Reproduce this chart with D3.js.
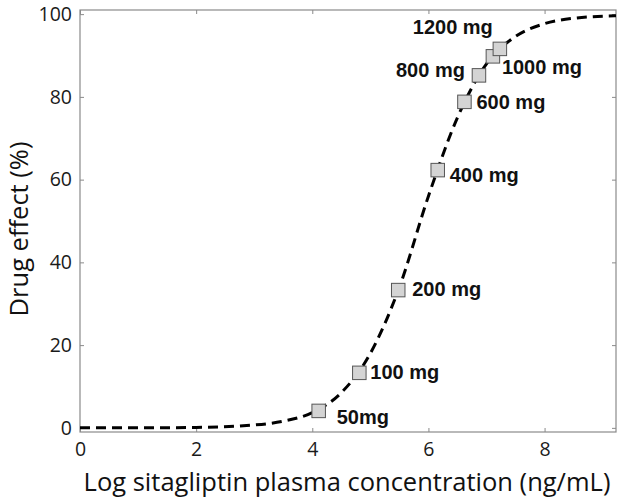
<!DOCTYPE html>
<html>
<head>
<meta charset="utf-8">
<script src="https://cdn.jsdelivr.net/npm/d3@7"></script>
<style>
  body { margin: 0; background: #fff; }
  svg { display: block; }
</style>
</head>
<body>
<div id="chart"></div>
<script>
// dose points
const doses = ["50mg", "100 mg", "200 mg", "400 mg", "600 mg", "800 mg", "1000 mg", "1200 mg"];
const logConc = [4.11, 4.81, 5.48, 6.16, 6.62, 6.87, 7.11, 7.23];
const effect = [4.1, 13.3, 33.3, 62.3, 78.8, 85.2, 89.8, 91.6];

// dashed model curve
const curveX = [0, 1, 2, 3, 3.5, 4, 4.5, 5, 5.5, 6, 6.5, 7, 7.5, 8, 8.5, 9.23];
const curveY = [0, 0, 0.1, 0.7, 1.6, 3.7, 8.5, 18, 34, 56, 75, 88, 94.6, 97.7, 99, 99.6];

const xTicks = [0, 2, 4, 6, 8];
const yTicks = [0, 20, 40, 60, 80, 100];

const W = 624, H = 503;
const margin = { top: 10, right: 8, bottom: 71, left: 80 };
const width = W - margin.left - margin.right,
  height = H - margin.top - margin.bottom;

const svg = d3.select("#chart").append("svg")
  .attr("width", W).attr("height", H);
const g = svg.append("g")
  .attr("transform", "translate(" + margin.left + "," + margin.top + ")");

const x = d3.scaleLinear().domain([0, 9.23]).range([0, width]);
const y = d3.scaleLinear().domain([-1, 101]).range([height, 0]);

const axisColor = "#8a8a8a";
const tickFont = "'Open Sans', sans-serif";

// frame
g.append("rect")
  .attr("width", width).attr("height", height)
  .attr("fill", "none").attr("stroke", axisColor).attr("stroke-width", 1.2);

// inward ticks on all four sides
const styleAxis = function (sel) {
  sel.select(".domain").remove();
  sel.selectAll(".tick line").attr("stroke", axisColor);
  sel.selectAll(".tick text")
    .attr("fill", "#1a1a1a")
    .style("font-family", tickFont)
    .style("font-size", "19.5px");
};

g.append("g").attr("transform", "translate(0," + height + ")")
  .call(d3.axisBottom(x).tickValues(xTicks).tickSizeInner(-4).tickPadding(10).tickFormat(d3.format("d")))
  .call(styleAxis);
g.append("g")
  .call(d3.axisTop(x).tickValues(xTicks).tickSizeInner(-4).tickFormat(""))
  .call(styleAxis);
g.append("g")
  .call(d3.axisLeft(y).tickValues(yTicks).tickSizeInner(-4).tickPadding(8).tickFormat(d3.format("d")))
  .call(styleAxis);
g.append("g").attr("transform", "translate(" + width + ",0)")
  .call(d3.axisRight(y).tickValues(yTicks).tickSizeInner(-4).tickFormat(""))
  .call(styleAxis);

// curve
const curvePts = curveX.map((d, i) => [d, curveY[i]]);
const line = d3.line()
  .x(d => x(d[0]))
  .y(d => y(d[1]))
  .curve(d3.curveMonotoneX);

g.append("path")
  .datum(curvePts)
  .attr("d", line)
  .attr("fill", "none")
  .attr("stroke", "#000")
  .attr("stroke-width", 3)
  .attr("stroke-dasharray", "10,6");

// squares
const pts = doses.map((d, i) => ({ dose: d, lx: logConc[i], e: effect[i] }));
const sq = 13.5;
g.append("g").selectAll("rect")
  .data(pts)
  .enter()
  .append("rect")
  .attr("x", d => x(d.lx) - sq / 2)
  .attr("y", d => y(d.e) - sq / 2)
  .attr("width", sq)
  .attr("height", sq)
  .attr("fill", "#d4d4d4")
  .attr("stroke", "#555")
  .attr("stroke-width", 1);

// dose labels, offset from each square
const labelOffset = {
  "50mg": [18, 13, "start"],
  "100 mg": [11, 6, "start"],
  "200 mg": [14, 6, "start"],
  "400 mg": [12, 12, "start"],
  "600 mg": [12, 7, "start"],
  "800 mg": [-14, 2, "end"],
  "1000 mg": [9, 18, "start"],
  "1200 mg": [-7, -15, "end"]
};
g.append("g").selectAll("text")
  .data(pts)
  .enter()
  .append("text")
  .attr("x", d => x(d.lx) + labelOffset[d.dose][0])
  .attr("y", d => y(d.e) + labelOffset[d.dose][1])
  .attr("text-anchor", d => labelOffset[d.dose][2])
  .style("font-family", "'Liberation Sans', Arial, sans-serif")
  .style("font-weight", "bold")
  .style("font-size", "20px")
  .attr("fill", "#111")
  .text(d => d.dose);

// axis titles
svg.append("text")
  .attr("x", 347)
  .attr("y", 491)
  .attr("text-anchor", "middle")
  .style("font-family", tickFont)
  .style("font-size", "25.5px")
  .attr("fill", "#111")
  .text("Log sitagliptin plasma concentration (ng/mL)");

svg.append("text")
  .attr("transform", "translate(28," + 229 + ") rotate(-90)")
  .attr("text-anchor", "middle")
  .style("font-family", tickFont)
  .style("font-size", "25.5px")
  .attr("fill", "#111")
  .text("Drug effect (%)");
</script>
</body>
</html>
